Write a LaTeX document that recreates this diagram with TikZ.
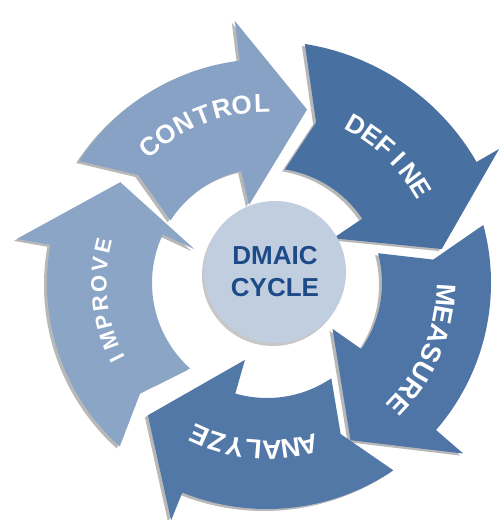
\documentclass[tikz,border=0pt]{standalone}
\usepackage{fontspec}
\setmainfont{Liberation Sans}
\usepackage{xcolor}
\usepackage{tikz}
\usetikzlibrary{positioning}

\definecolor{ctrlblue}{RGB}{135,162,196}
\definecolor{defblue}{RGB}{72,112,160}
\definecolor{measblue}{RGB}{78,117,166}
\definecolor{analblue}{RGB}{82,120,168}
\definecolor{imprblue}{RGB}{139,165,198}
\definecolor{hubblue}{RGB}{192,206,224}
\definecolor{hubtext}{RGB}{30,75,135}

\tikzset{
  arrowbody/.style={fill=#1, preaction={fill=black!28, transform canvas={shift={(-3pt,-2pt)}}}},
  letter/.style={text=white, inner sep=0pt},
  hub/.style={circle, minimum size=142pt, inner sep=0pt, fill=hubblue, text=hubtext,
    align=center, font=\bfseries\fontsize{26}{32}\selectfont,
    preaction={fill=black!22, transform canvas={shift={(-2pt,-3pt)}}}}
}

\begin{document}
\begin{tikzpicture}[x=1pt,y=1pt]
\useasboundingbox (0,0) rectangle (501,520);

% Ring of arrows
\begin{scope}[shift={(267,237)}]
\foreach \tail/\notch/\bo/\bi/\tip/\rout/\bout/\col in {
    147/140/97/103/77/224/264/ctrlblue,
    81/73/30/34/11/242/268/defblue,
    15/8/-41/-35/-62/224/260/measblue,
    -56/-64/-112/-106/-132/226/256/analblue,
    -132/-139/-190/-205/-214.5/220/254/imprblue}
  \fill[arrowbody=\col] (\tail:\rout) arc[start angle=\tail, end angle=\bo, radius=\rout]
    -- (\bo:\bout) -- (\tip:178) -- (\bi:80) -- (\bi:115)
    arc[start angle=\bi, end angle=\tail, radius=115] -- (\notch:168) -- cycle;

% Labels along the arrows
\foreach \letters/\word/\start/\step/\rad/\fsz in {
    {C,O,N,T,R,O,L}/control/130.6/6.5/180/26,
    {D,E,F,I,N,E}/define/60.6/5.8/181/26,
    {M,E,A,S,U,R,E}/measure/-3.8/6.5/179/27,
    {A,N,A,L,Y,Z,E}/analyze/-75.5/6.4/167/27,
    {I,M,P,R,O,V,E}/improve/-153.3/6.6/168/22}
  \foreach \ch [count=\i from 0] in \letters {
    \pgfmathsetmacro{\ang}{\start-\i*\step}
    \node[letter, font={\bfseries\fontsize{\fsz pt}{\fsz pt}\selectfont}, rotate=\ang-90]
      (\word-\i) at (\ang:\rad) {\ch};
  }
\end{scope}

% Centre
\node[hub] (hub) at (275,248) {DMAIC\\CYCLE};
\end{tikzpicture}
\end{document}
